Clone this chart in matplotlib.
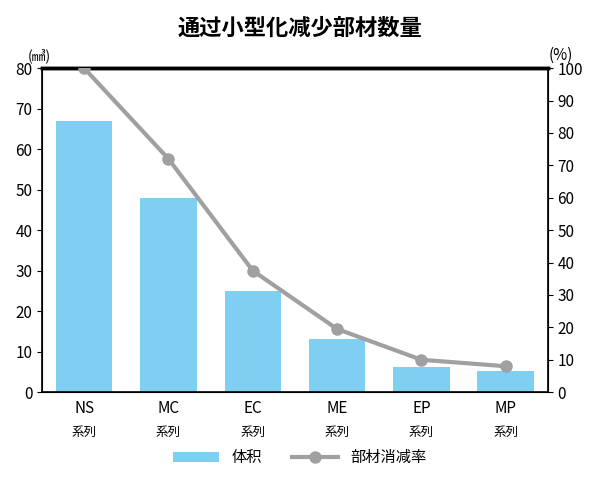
import matplotlib.pyplot as plt
import numpy as np

plt.rcParams['font.family'] = ['Noto Sans CJK SC', 'Noto Sans CJK JP',
                               'Noto Sans CJK TC', 'DejaVu Sans']

categories = ['NS', 'MC', 'EC', 'ME', 'EP', 'MP']
sub_label = '系列'
volume = [67, 48, 25, 13.2, 6.3, 5.2]
reduction = [100, 72, 37.5, 19.5, 10, 8]

fig = plt.figure(figsize=(6, 4.8), dpi=100)
ax = fig.add_axes([0.07, 0.183, 0.843, 0.675])
x = np.arange(len(categories))
bars = ax.bar(x, volume, width=0.67, color='#7fcff2', label='体积', zorder=2)
ax.set_ylim(0, 80)
ax.set_xlim(-0.5, 5.5)
ax.set_yticks(range(0, 81, 10))
ax.set_xticks(x)
ax.set_xticklabels(categories, fontsize=11)
ax.tick_params(axis='x', length=0, pad=6)
ax.tick_params(axis='y', labelsize=11)
for xi in x:
    ax.text(xi, -0.105, sub_label, transform=ax.get_xaxis_transform(),
            ha='center', va='top', fontsize=9)
for s in ax.spines.values():
    s.set_linewidth(1.2)
ax.spines['top'].set_linewidth(2.5)

ax2 = ax.twinx()
line, = ax2.plot(x, reduction, color='#a0a0a0', lw=3, marker='o', ms=8,
                 label='部材消减率', zorder=3)
ax2.set_ylim(0, 100)
ax2.set_yticks(range(0, 101, 10))
ax2.tick_params(axis='y', labelsize=11)
ax2.spines['top'].set_linewidth(2.5)

fig.text(0.065, 0.875, '(㎣)', ha='center', fontsize=10)
fig.text(0.935, 0.875, '(%)', ha='center', fontsize=11)
fig.suptitle('通过小型化减少部材数量', y=0.965, fontsize=16, fontweight='bold')
fig.legend([bars, line], ['体积', '部材消减率'], loc='lower center',
           bbox_to_anchor=(0.5, 0.0), ncol=2, frameon=False, fontsize=11,
           handlelength=3, columnspacing=2)

fig.savefig('out.png')
